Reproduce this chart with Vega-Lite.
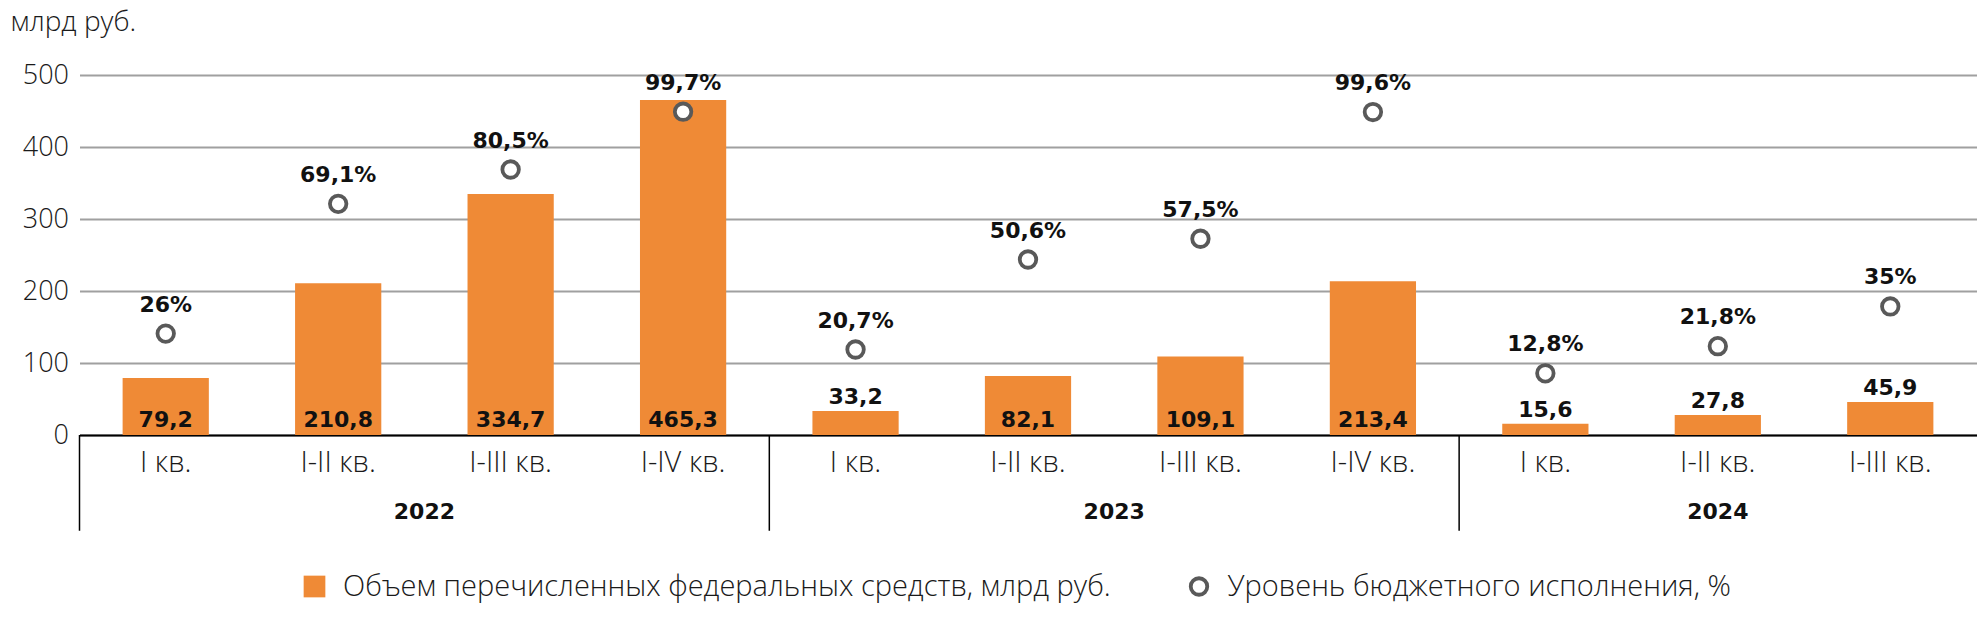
{
  "$schema": "https://vega.github.io/schema/vega-lite/v6.json",
  "width": 1897,
  "height": 360,
  "autosize": {"type": "none"},
  "padding": {"left": 79.5, "top": 75, "right": 9.5, "bottom": 203},
  "background": "white",
  "config": {
    "view": {"stroke": null},
    "font": "Open Sans",
    "locale": {"number": {"decimal": ",", "thousands": " ", "grouping": [3], "currency": ["", " ₽"]}}
  },
  "data": {"values": [
    {"year": "2022", "k": "2022|I кв.", "v": 79.2, "p": 0.26},
    {"year": "2022", "k": "2022|I-II кв.", "v": 210.8, "p": 0.691},
    {"year": "2022", "k": "2022|I-III кв.", "v": 334.7, "p": 0.805},
    {"year": "2022", "k": "2022|I-IV кв.", "v": 465.3, "p": 0.997},
    {"year": "2023", "k": "2023|I кв.", "v": 33.2, "p": 0.207},
    {"year": "2023", "k": "2023|I-II кв.", "v": 82.1, "p": 0.506},
    {"year": "2023", "k": "2023|I-III кв.", "v": 109.1, "p": 0.575},
    {"year": "2023", "k": "2023|I-IV кв.", "v": 213.4, "p": 0.996},
    {"year": "2024", "k": "2024|I кв.", "v": 15.6, "p": 0.128},
    {"year": "2024", "k": "2024|I-II кв.", "v": 27.8, "p": 0.218},
    {"year": "2024", "k": "2024|I-III кв.", "v": 45.9, "p": 0.35}
  ]},
  "layer": [
    {
      "mark": {"type": "bar"},
      "encoding": {
        "x": {"field": "k", "type": "nominal", "sort": null,
          "scale": {"paddingInner": 0.5, "paddingOuter": 0.25},
          "axis": {"title": null, "labelExpr": "split(datum.value, '|')[1]", "labelAngle": 0, "ticks": false,
            "labelPadding": 36, "labelBaseline": "alphabetic", "labelFont": "Open Sans", "labelFontWeight": 300,
            "labelFontSize": 29, "labelColor": "#1a1a1a", "labelOverlap": false, "domainColor": "#000000", "domainWidth": 2, "grid": false}},
        "y": {"field": "v", "type": "quantitative", "scale": {"domain": [0, 500], "nice": false},
          "axis": {"values": [0, 100, 200, 300, 400, 500], "title": "млрд руб.", "titleAngle": 0, "titleAlign": "left",
            "titleBaseline": "alphabetic", "titleX": -69.5, "titleY": -45, "titleFont": "Open Sans", "titleFontWeight": 300,
            "titleFontSize": 28, "titleColor": "#1a1a1a", "labelFont": "Open Sans", "labelFontWeight": 300, "labelFontSize": 27,
            "labelColor": "#1a1a1a", "labelPadding": 11, "ticks": false, "domain": false, "gridColor": "#a0a0a0", "gridWidth": 2}},
        "fill": {"datum": "Объем перечисленных федеральных средств, млрд руб.", "type": "nominal",
          "scale": {"range": ["#EF8A36"]},
          "legend": {"title": null, "orient": "none", "legendX": 220.5, "legendY": 497,
            "labelFont": "Open Sans", "labelFontWeight": 300, "labelFontSize": 29, "labelColor": "#1a1a1a", "labelLimit": 0,
            "symbolType": "square", "symbolSize": 471, "symbolStrokeWidth": 0, "labelOffset": 14}}
      }
    },
    {
      "mark": {"type": "text", "baseline": "alphabetic", "dy": -8, "font": "DejaVu Sans", "fontWeight": "bold", "fontSize": 22, "color": "#111111"},
      "encoding": {
        "x": {"field": "k", "type": "nominal", "sort": null, "axis": null},
        "y": {"datum": 0, "type": "quantitative", "scale": {"domain": [0, 500], "nice": false}, "axis": null},
        "text": {"condition": {"test": "datum.v >= 60", "field": "v", "type": "quantitative", "format": ".1f"}, "value": ""}
      }
    },
    {
      "mark": {"type": "text", "baseline": "alphabetic", "dy": -7, "font": "DejaVu Sans", "fontWeight": "bold", "fontSize": 22, "color": "#111111"},
      "encoding": {
        "x": {"field": "k", "type": "nominal", "sort": null, "axis": null},
        "y": {"field": "v", "type": "quantitative", "scale": {"domain": [0, 500], "nice": false}, "axis": null},
        "text": {"condition": {"test": "datum.v < 60", "field": "v", "type": "quantitative", "format": ".1f"}, "value": ""}
      }
    },
    {
      "mark": {"type": "point", "shape": "circle", "size": 272, "strokeWidth": 3.8, "filled": true, "fill": "#ffffff", "opacity": 1},
      "encoding": {
        "x": {"field": "k", "type": "nominal", "sort": null, "axis": null},
        "y": {"field": "p", "type": "quantitative", "scale": {"domain": [-0.077, 1.119], "nice": false, "zero": false}, "axis": null},
        "stroke": {"datum": "Уровень бюджетного исполнения, %", "type": "nominal",
          "scale": {"range": ["#595959"]},
          "legend": {"title": null, "orient": "none", "legendX": 1105, "legendY": 497,
            "labelFont": "Open Sans", "labelFontWeight": 300, "labelFontSize": 29, "labelColor": "#1a1a1a", "labelLimit": 0,
            "symbolType": "circle", "symbolSize": 272, "symbolStrokeWidth": 3.8, "symbolFillColor": "#ffffff", "labelOffset": 14}}
      }
    },
    {
      "mark": {"type": "text", "baseline": "alphabetic", "dy": -22, "font": "DejaVu Sans", "fontWeight": "bold", "fontSize": 22, "color": "#111111"},
      "encoding": {
        "x": {"field": "k", "type": "nominal", "sort": null, "axis": null},
        "y": {"field": "p", "type": "quantitative", "scale": {"domain": [-0.077, 1.119], "nice": false, "zero": false}, "axis": null},
        "text": {"field": "p", "type": "quantitative", "format": ".1~%"}
      }
    },
    {
      "transform": [
        {"window": [{"op": "row_number", "as": "idx"}]},
        {"aggregate": [{"op": "mean", "field": "idx", "as": "mid"}], "groupby": ["year"]}
      ],
      "mark": {"type": "text", "baseline": "alphabetic", "font": "DejaVu Sans", "fontWeight": "bold", "fontSize": 22, "color": "#111111"},
      "encoding": {
        "x": {"field": "mid", "type": "quantitative", "scale": {"domain": [0.5, 11.5], "nice": false, "zero": false}, "axis": null},
        "y": {"datum": -117, "type": "quantitative", "scale": {"domain": [0, 500], "nice": false}, "axis": null},
        "text": {"field": "year", "type": "nominal"}
      }
    },
    {
      "transform": [
        {"window": [{"op": "row_number", "as": "idx"}]},
        {"aggregate": [{"op": "min", "field": "idx", "as": "first"}], "groupby": ["year"]}
      ],
      "mark": {"type": "rule", "color": "#000000", "strokeWidth": 1.5},
      "encoding": {
        "x": {"field": "first", "type": "quantitative", "scale": {"domain": [1, 12], "nice": false, "zero": false}, "axis": null},
        "y": {"datum": 0, "type": "quantitative", "scale": {"domain": [0, 500], "nice": false}, "axis": null},
        "y2": {"datum": -133}
      }
    }
  ],
  "resolve": {"scale": {"x": "independent", "y": "independent"}}
}
